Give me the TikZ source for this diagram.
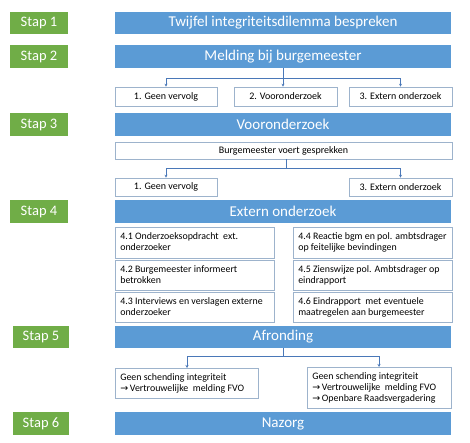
\documentclass[tikz,border=0pt]{standalone}
\usepackage{fontspec}
\setmainfont{Carlito}
\newfontfamily\arrowfont{DejaVu Sans}
\usetikzlibrary{arrows.meta}
\definecolor{stapgreen}{HTML}{70AD47}
\definecolor{barblue}{HTML}{5B9BD5}
\definecolor{boxline}{HTML}{9DB3CC}
\definecolor{arrowblue}{HTML}{4A78B8}
\newcommand{\rarr}{{\arrowfont\fontsize{9.5}{11}\selectfont →}\,}
\newcommand{\lbox}[2]{\makebox[#1][l]{\begin{tabular}{@{}l@{}}#2\end{tabular}}}
\begin{document}
\begin{tikzpicture}[x=1pt,y=-1pt,
  stapbox/.style={fill=stapgreen,draw=none,text=white,font=\fontsize{14.5}{16}\selectfont,inner sep=0pt},
  barbox/.style={fill=barblue,draw=none,text=white,font=\fontsize{15}{17}\selectfont,inner sep=0pt},
  wbox/.style={draw=boxline,line width=0.6pt,fill=white,font=\fontsize{10}{11}\selectfont,inner sep=0pt},
  tbox/.style={draw=boxline,line width=0.6pt,fill=white,font=\fontsize{9.9}{11}\selectfont,inner sep=0pt,anchor=north west,inner xsep=5pt,inner ysep=3pt},
  conn/.style={draw=arrowblue,line width=0.6pt},
  arr/.style={conn,-{Stealth[length=3pt,width=3pt]}}]
\useasboundingbox (0,0) rectangle (470,443);
% Stap labels
\node[stapbox,minimum width=58pt,minimum height=22pt] (s1) at (39,23) {Stap 1};
\node[stapbox,minimum width=58pt,minimum height=23pt] (s2) at (39,56.5) {Stap 2};
\node[stapbox,minimum width=58pt,minimum height=23pt] (s3) at (39,124.5) {Stap 3};
\node[stapbox,minimum width=58pt,minimum height=23pt] (s4) at (39,211.5) {Stap 4};
\node[stapbox,minimum width=56pt,minimum height=22pt] (s5) at (41,337) {Stap 5};
\node[stapbox,minimum width=56pt,minimum height=23pt] (s6) at (41,423.5) {Stap 6};
% Blue bars
\node[barbox,minimum width=336pt,minimum height=22pt] (b1) at (283,23) {Twijfel integriteitsdilemma bespreken};
\node[barbox,minimum width=336pt,minimum height=23pt] (b2) at (283,56.5) {Melding bij burgemeester};
\node[barbox,minimum width=336pt,minimum height=23pt] (b3) at (283,124.5) {Vooronderzoek};
\node[barbox,minimum width=336pt,minimum height=23pt] (b4) at (283,211.5) {Extern onderzoek};
\node[barbox,minimum width=336pt,minimum height=22pt] (b5) at (283,337) {Afronding};
\node[barbox,minimum width=336pt,minimum height=23pt] (b6) at (283,423.5) {Nazorg};
% Stap 2 options
\node[wbox,minimum width=102pt,minimum height=19pt] (o1) at (166,96.5) {1. Geen vervolg};
\node[wbox,minimum width=103pt,minimum height=19pt] (o2) at (285.5,96.5) {2. Vooronderzoek};
\node[wbox,minimum width=103pt,minimum height=19pt] (o3) at (400.5,96.5) {3. Extern onderzoek};
\coordinate (j2) at (283,78);
\draw[conn] (b2.south) -- (j2);
\draw[arr] (j2) -| (o1.north);
\draw[arr] (j2) -| (o3.north);
\draw[arr] (j2) -- (o2.north -| j2);
% Stap 3
\node[wbox,minimum width=337pt,minimum height=17pt] (g) at (283.5,150.5) {Burgemeester voert gesprekken};
\node[wbox,minimum width=102pt,minimum height=18pt] (v1) at (166,187) {1. Geen vervolg};
\node[wbox,minimum width=103pt,minimum height=18pt] (v3) at (400.5,187) {3. Extern onderzoek};
\coordinate (j3) at (286,168);
\draw[conn] (g.south -| j3) -- (j3);
\draw[arr] (j3) -| (v1.north);
\draw[arr] (j3) -| (v3.north);
% Stap 4 boxes
\node[tbox,minimum width=159pt,minimum height=31pt] (e1) at (115,227) {\lbox{149pt}{4.1 Onderzoeksopdracht\ \ ext.\\onderzoeker}};
\node[tbox,minimum width=159pt,minimum height=30pt] (e2) at (115,260) {\lbox{149pt}{4.2 Burgemeester informeert\\betrokken}};
\node[tbox,minimum width=159pt,minimum height=30pt] (e3) at (115,292) {\lbox{149pt}{4.3 Interviews en verslagen externe\\onderzoeker}};
\node[tbox,minimum width=159pt,minimum height=31pt] (e4) at (293,227) {\lbox{149pt}{4.4 Reactie bgm en pol. ambtsdrager\\op feitelijke bevindingen}};
\node[tbox,minimum width=159pt,minimum height=30pt] (e5) at (293,260) {\lbox{149pt}{4.5 Zienswijze pol. Ambtsdrager op\\eindrapport}};
\node[tbox,minimum width=159pt,minimum height=30pt] (e6) at (293,292) {\lbox{149pt}{4.6 Eindrapport\ \ met eventuele\\maatregelen aan burgemeester}};
% Stap 5
\node[tbox,minimum width=143pt,minimum height=30pt] (a1) at (115,368) {\lbox{133pt}{Geen schending integriteit\\\rarr Vertrouwelijke\ \ melding FVO}};
\node[tbox,minimum width=144pt,minimum height=41pt] (a2) at (307,367) {\lbox{134pt}{Geen schending integriteit\\\rarr Vertrouwelijke\ \ melding FVO\\\rarr Openbare Raadsvergadering}};
\coordinate (j5) at (283,356);
\coordinate (l5) at (187,356);
\coordinate (r5) at (379,356);
\draw[conn] (b5.south) -- (j5);
\draw[conn] (l5) -- (r5);
\draw[arr] (l5) -- (l5 |- a1.north);
\draw[arr] (r5) -- (r5 |- a2.north);
\end{tikzpicture}
\end{document}
